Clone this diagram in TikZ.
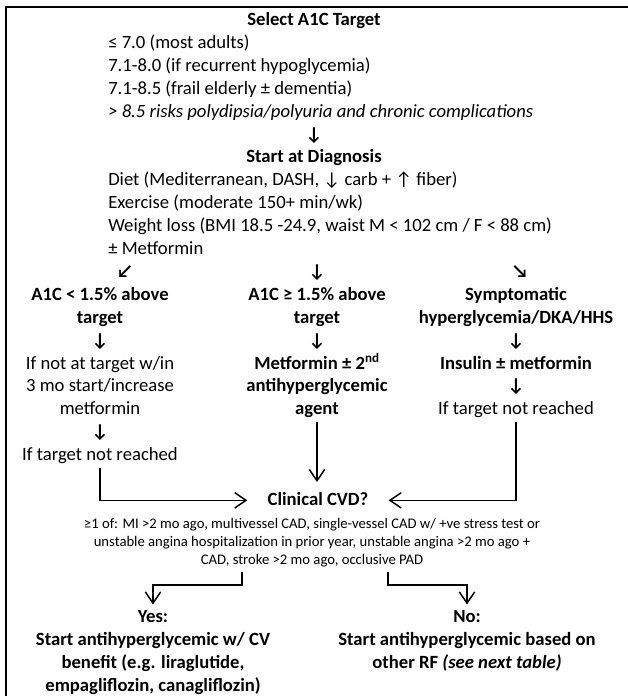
\documentclass[tikz,border=0pt]{standalone}
\usepackage{fontspec}
\setmainfont{Carlito}
\newfontfamily\arrowfont{Carlito}
\usetikzlibrary{arrows.meta,calc}
\newcommand\fmain{\fontsize{14}{17}\selectfont}
\newcommand\fsml{\fontsize{11}{13.5}\selectfont}
\newcommand\arwg[1]{{\arrowfont\bfseries\fontsize{14}{17}\selectfont #1}}
\newcommand\arwi[1]{{\arrowfont\mdseries\fontsize{14}{17}\selectfont #1}}
\begin{document}
\begin{tikzpicture}[x=0.75pt,y=-0.75pt,
  t/.style={inner sep=0pt, anchor=base, font=\fmain, text height=10pt, text depth=3pt},
  tl/.style={t, anchor=base west},
  tb/.style={t, font=\fmain\bfseries},
  ti/.style={tl, font=\fmain\itshape},
  ts/.style={inner sep=0pt, anchor=base, font=\fsml, text height=8pt, text depth=2.5pt},
  arw/.style={t},
  conn/.style={line width=1.1pt, -{Straight Barb[length=8.5pt,width=11.5pt,line width=1.1pt]}}
]
\useasboundingbox (0,0) rectangle (628,696);
% frame
\draw[line width=1.5pt] (6,696) -- (6,6.7) -- (628,6.7);

% top block
\node[tb] (tsel) at (314,25.5) {Select A1C Target};
\node[tl] (t2) at (108,48.4) {≤ 7.0 (most adults)};
\node[tl] (t3) at (108,71.3) {7.1-8.0 (if recurrent hypoglycemia)};
\node[tl] (t4) at (108,94.2) {7.1-8.5 (frail elderly ± dementia)};
\node[ti] (t5) at (108,117.1) {> 8.5 risks polydipsia/polyuria and chronic complications};
\node[arw] (a1) at (314,140) {\arwg{↓}};
\node[tb] (tdx) at (314,162.9) {Start at Diagnosis};
\node[tl] (d1) at (108,185.8) {Diet (Mediterranean, DASH, \arwi{↓} carb + \arwi{↑} fiber)};
\node[tl] (d2) at (108,208.7) {Exercise (moderate 150+ min/wk)};
\node[tl] (d3) at (108,231.6) {Weight loss (BMI 18.5 -24.9, waist M < 102 cm / F < 88 cm)};
\node[tl] (d4) at (108,254.5) {± Metformin};

% branch arrows
\node[arw] (aL) at (125,277.4) {\arwg{↙}};
\node[arw] (aM) at (317,277.4) {\arwg{↓}};
\node[arw] (aR) at (520,277.4) {\arwg{↘}};

% left column
\node[tb] (lA) at (100,300.3) {A1C < 1.5\% above};
\node[tb] (lB) at (100,323.2) {target};
\node[arw] (lAr) at (100,346.1) {\arwg{↓}};
\node[t] (lC) at (100,369) {If not at target w/in};
\node[t] (lD) at (100,391.9) {3 mo start/increase};
\node[t] (lE) at (100,414.8) {metformin};
\node[arw] (lF) at (100,437.7) {\arwg{↓}};
\node[t] (lG) at (100,460.6) {If target not reached};

% middle column
\node[tb] (mA) at (317,300.3) {A1C ≥ 1.5\% above};
\node[tb] (mB) at (317,323.2) {target};
\node[arw] (mAr) at (317,346.1) {\arwg{↓}};
\node[tb] (mC) at (317,369) {Metformin ± 2\textsuperscript{nd}};
\node[tb] (mD) at (317,391.9) {antihyperglycemic};
\node[tb] (mE) at (317,414.8) {agent};

% right column
\node[tb] (rA) at (516,300.3) {Symptomatic};
\node[tb] (rB) at (516,323.2) {hyperglycemia/DKA/HHS};
\node[arw] (rAr) at (516,346.1) {\arwg{↓}};
\node[tb] (rC) at (516,369) {Insulin ± metformin};
\node[arw] (rD) at (516,391.9) {\arwg{↓}};
\node[t] (rE) at (516,414.8) {If target not reached};

% clinical CVD
\node[tb] (cvd) at (318,505) {Clinical CVD?};
\node[ts] (c1) at (312,528.5) {≥1 of: MI >2 mo ago, multivessel CAD, single-vessel CAD w/ +ve stress test or};
\node[ts] (c2) at (312,546.5) {unstable angina hospitalization in prior year, unstable angina >2 mo ago +};
\node[ts] (c3) at (312,564.5) {CAD, stroke >2 mo ago, occlusive PAD};

% outcomes
\node[tb] (yes1) at (153,622.8) {Yes:};
\node[tb] (yes2) at (153,645.7) {Start antihyperglycemic w/ CV};
\node[tb] (yes3) at (153,668.6) {benefit (e.g. liraglutide,};
\node[tb] (yes4) at (153,691.5) {empagliflozin, canagliflozin)};
\node[tb] (no1) at (467,622.8) {No:};
\node[tb] (no2) at (467,645.7) {Start antihyperglycemic based on};
\node[tb] (no3) at (467,668.6) {other RF \textit{(see next table)}};

% connectors
\draw[conn, shorten <=2pt, shorten >=15pt] (lG.south) |- (cvd.west);
\draw[conn, shorten <=2pt, shorten >=7pt] (mE.south) -- (mE.south |- cvd.north);
\draw[conn, shorten <=2pt, shorten >=15pt] (rE.south) |- (cvd.east);
\draw[conn, shorten >=3.5pt] ($(c3.south)+(-70,4)$) -- ++(0,13) -| (yes1.north);
\draw[conn, shorten >=3.5pt] ($(c3.south)+(76,4)$) -- ++(0,13) -| (no1.north);
\end{tikzpicture}
\end{document}
